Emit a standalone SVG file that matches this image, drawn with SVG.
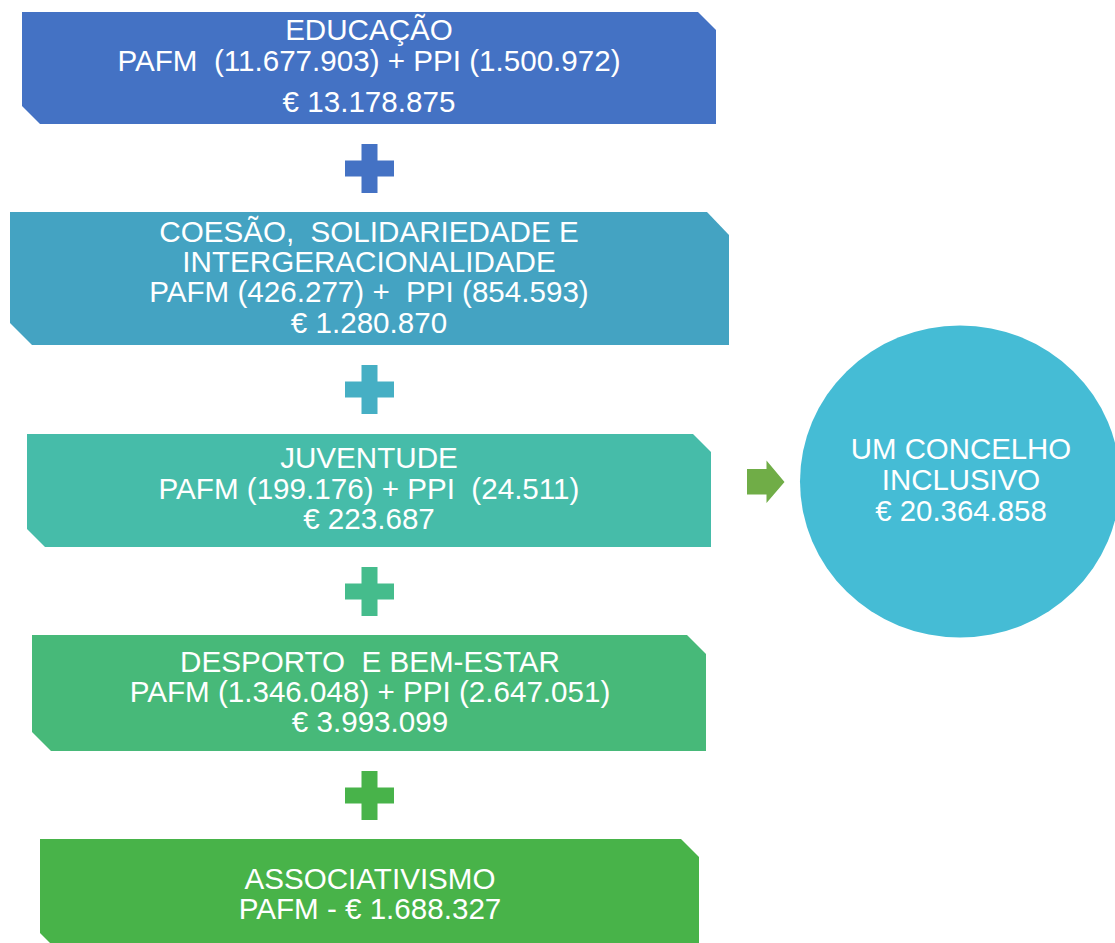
<svg xmlns="http://www.w3.org/2000/svg" width="1115" height="943" viewBox="0 0 1115 943">
<style>
.t{font-family:"Liberation Sans",Arial,sans-serif;font-size:29.6px;fill:#ffffff;text-anchor:middle}
.c{font-family:"Liberation Sans",Arial,sans-serif;font-size:29.4px;fill:#ffffff;text-anchor:middle}
</style>
<rect width="1115" height="943" fill="#ffffff"/>
<g id="educacao">
<path d="M22,12 H698 L716,30 V124 H40 L22,106 Z" fill="#4472C4"/>
<text class="t" x="369" y="40">EDUCAÇÃO</text>
<text class="t" x="369" y="71" xml:space="preserve">PAFM  (11.677.903) + PPI (1.500.972)</text>
<text class="t" x="369" y="112">€ 13.178.875</text>
</g>
<g id="coesao">
<path d="M10,212 H707 L729,235 V345 H32 L10,323 Z" fill="#44A3C2"/>
<text class="t" x="369" y="242" xml:space="preserve">COESÃO,  SOLIDARIEDADE E</text>
<text class="t" x="369" y="272">INTERGERACIONALIDADE</text>
<text class="t" x="369" y="302" xml:space="preserve">PAFM (426.277) +  PPI (854.593)</text>
<text class="t" x="369" y="333">€ 1.280.870</text>
</g>
<g id="juventude">
<path d="M27,434 H693 L711,452 V547 H45 L27,529 Z" fill="#46BCA9"/>
<text class="t" x="369" y="468">JUVENTUDE</text>
<text class="t" x="369" y="499" xml:space="preserve">PAFM (199.176) + PPI  (24.511)</text>
<text class="t" x="369" y="529">€ 223.687</text>
</g>
<g id="desporto">
<path d="M32,635 H687 L706,654 V751 H51 L32,732 Z" fill="#47B979"/>
<text class="t" x="370" y="672" xml:space="preserve">DESPORTO  E BEM-ESTAR</text>
<text class="t" x="370" y="702">PAFM (1.346.048) + PPI (2.647.051)</text>
<text class="t" x="370" y="732">€ 3.993.099</text>
</g>
<g id="associativismo">
<path d="M40,839 H681 L699,857 V951 H58 L40,933 Z" fill="#48B349"/>
<text class="t" x="370" y="889">ASSOCIATIVISMO</text>
<text class="t" x="370" y="919">PAFM - € 1.688.327</text>
</g>
<g id="concelho">
<ellipse cx="960" cy="481.5" rx="160" ry="156" fill="#45BCD5"/>
<text class="c" x="961" y="459">UM CONCELHO</text>
<text class="c" x="961" y="490">INCLUSIVO</text>
<text class="c" x="961" y="521">€ 20.364.858</text>
</g>
<g id="connectors">
<path d="M361.5,144 h16 v16.5 h16.5 v16 h-16.5 v16.5 h-16 v-16.5 h-16.5 v-16 h16.5 Z" fill="#4472C4"/>
<path d="M361.5,365 h16 v16.5 h16.5 v16 h-16.5 v16.5 h-16 v-16.5 h-16.5 v-16 h16.5 Z" fill="#46AFC4"/>
<path d="M361.5,567 h16 v16.5 h16.5 v16 h-16.5 v16.5 h-16 v-16.5 h-16.5 v-16 h16.5 Z" fill="#45BC8C"/>
<path d="M361.5,771 h16 v16.5 h16.5 v16 h-16.5 v16.5 h-16 v-16.5 h-16.5 v-16 h16.5 Z" fill="#48B34A"/>
<path d="M747,469 H766.5 V460.5 L784.5,482 L766.5,503 V494.5 H747 Z" fill="#70AD47"/>
</g>
</svg>
